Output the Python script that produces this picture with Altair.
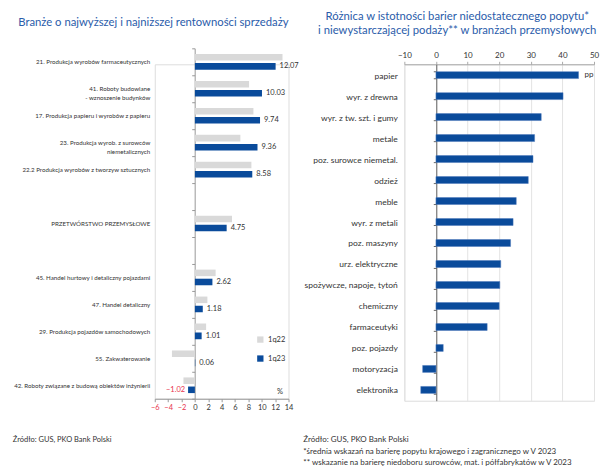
import altair as alt
import pandas as pd

# ---------------- data ----------------
left_cats = [
    "21. Produkcja wyrobów farmaceutycznych",
    "41. Roboty budowlane|- wznoszenie budynków",
    "17. Produkcja papieru i wyrobów z papieru",
    "23. Produkcja wyrob. z surowców|niemetalicznych",
    "22.2 Produkcja wyrobów z tworzyw sztucznych",
    " ",
    "PRZETWÓRSTWO PRZEMYSŁOWE",
    "  ",
    "45. Handel hurtowy i detaliczny pojazdami",
    "47. Handel detaliczny",
    "29. Produkcja pojazdów samochodowych",
    "55. Zakwaterowanie",
    "42. Roboty związane z budową obiektów inżynierii",
]
q22 = [13.1, 8.1, 8.75, 6.8, 8.45, None, 5.55, None, 3.1, 1.87, 1.68, -3.43, -1.71]
q23 = [12.07, 10.03, 9.74, 9.36, 8.58, None, 4.75, None, 2.62, 1.18, 1.01, 0.06, -1.02]
series = ["1q22", "1q23"]
left_ticks = [-6, -4, -2, 0, 2, 4, 6, 8, 10, 12, 14]

right_cats = [
    "papier", "wyr. z drewna", "wyr. z tw. szt. i gumy", "metale",
    "poz. surowce niemetal.", "odzież", "meble", "wyr. z metali",
    "poz. maszyny", "urz. elektryczne", "spożywcze, napoje, tytoń",
    "chemiczny", "farmaceutyki", "poz. pojazdy", "motoryzacja", "elektronika",
]
right_vals = [45.1, 40.2, 33.3, 31.2, 30.7, 29.2, 25.4, 24.4, 23.6, 20.5,
              20.2, 20.0, 16.2, 2.3, -4.2, -4.8]
right_ticks = [-10, 0, 10, 20, 30, 40, 50]

left_title = "Branże o najwyższej i najniższej rentowności sprzedaży"
right_title = ["Różnica w istotności barier niedostatecznego  popytu*",
               "i niewystarczającej podaży** w branżach przemysłowych"]
source = "Źródło: GUS, PKO Bank Polski"
notes = ["*średnia wskazań na barierę popytu krajowego i zagranicznego w V 2023",
         "** wskazanie na barierę niedoboru surowców, mat. i półfabrykatów w V 2023"]

# ---------------- styles ----------------
BLUE = "#0a4b9b"
GRAY = "#d9d9d9"
RED = "#e8344e"
TXT = "#333333"
TITLE_BLUE = "#2a5caa"
FONT = "Lato"

rows = []
for c, a, b in zip(left_cats, q22, q23):
    rows.append({"cat": c, "series": series[0], "v": a})
    rows.append({"cat": c, "series": series[1], "v": b})
ldf = pd.DataFrame(rows)

y_left = alt.Y(
    "cat:N", sort=left_cats,
    scale=alt.Scale(domain=left_cats, paddingInner=0, paddingOuter=0, range=[-16, 335]),
    axis=alt.Axis(title=None, orient="left", offset=-40, tickBand="extent",
                  tickSize=3, labelPadding=42, labelExpr="split(datum.label, '|')",
                  labelFontSize=6.2, labelColor=TXT, labelLimit=250,
                  domainColor="#999999", tickColor="#999999", labelLineHeight=9),
)
yoff = alt.YOffset("series:N", sort=series,
                   scale=alt.Scale(domain=series, paddingInner=0.28, paddingOuter=0.62))
x_left = alt.X(
    "v:Q", scale=alt.Scale(domain=[-6, 14], nice=False),
    axis=alt.Axis(values=left_ticks, tickCount=20, title="%",
                  titleX=125, titleY=-11,
                  titleFontSize=7.5, titleFontWeight="normal", titleColor=TXT,
                  labelFontSize=7.5, labelOverlap=False, labelFlush=False,
                  labelColor=alt.condition("datum.value < 0", alt.value(RED), alt.value(TXT)),
                  grid=False, domainColor="#999999", tickColor="#999999", tickSize=3),
)

bars_l = alt.Chart(ldf).mark_bar().encode(
    y=y_left, yOffset=yoff, x=x_left,
    color=alt.Color("series:N", sort=series,
                    scale=alt.Scale(domain=series, range=[GRAY, BLUE]),
                    legend=alt.Legend(title=None, orient="none", legendX=102, legendY=272,
                                      symbolType="square", symbolSize=40, labelFontSize=7.5,
                                      labelColor=TXT, rowPadding=10, symbolStrokeWidth=0)),
)
base_txt = alt.Chart(ldf).transform_filter(
    "datum.series == '1q23' && isValid(datum.v)")
txt_pos = base_txt.transform_filter("datum.v >= 0").mark_text(
    align="left", dx=4, fontSize=7.5, color=TXT).encode(
    y=y_left, yOffset=yoff, x=x_left, text=alt.Text("v:Q", format=".2f"))
txt_neg = base_txt.transform_filter("datum.v < 0").mark_text(
    align="right", dx=-3, fontSize=7.5, color=RED).encode(
    y=y_left, yOffset=yoff, x=x_left, text=alt.Text("v:Q", format=".2f"))

left = alt.layer(bars_l, txt_pos, txt_neg).properties(
    width=134, height=335,
    title=alt.TitleParams(left_title, fontSize=11.3, color=TITLE_BLUE, font=FONT,
                          fontWeight="normal", anchor="start", frame="bounds", offset=20,
                          dx=5),
)

# right chart
rdf = pd.DataFrame({"cat": right_cats, "v": right_vals})
y_right = alt.Y(
    "cat:N", sort=right_cats,
    scale=alt.Scale(domain=right_cats, paddingInner=0.67, paddingOuter=0.35),
    axis=alt.Axis(title=None, orient="left", offset=-32, tickBand="extent",
                  tickSize=3, labelPadding=36, labelFontSize=8.5, labelColor=TXT,
                  labelLimit=250, domainColor="#666666", tickColor="#666666"),
)
x_right = alt.X(
    "v:Q", scale=alt.Scale(domain=[-10, 50], nice=False),
    axis=alt.Axis(values=right_ticks, tickCount=20, orient="top",
                  title=None, labelFontSize=8, labelColor=TXT,
                  grid=True, gridColor="#e3e3e3",
                  labelOverlap=False, labelFlush=False,
                  domainColor="#aaaaaa", tickColor="#aaaaaa", tickSize=3),
)
bars_r = alt.Chart(rdf).mark_bar(color=BLUE, stroke="#4a78bb", strokeWidth=0.5).encode(
    y=y_right, x=x_right)
pp = alt.Chart(rdf).transform_filter("datum.cat == 'papier'").mark_text(
    align="left", dx=6, fontSize=8, color=TXT).encode(
    y=y_right, x=x_right, text=alt.value("pp"))

right = alt.layer(bars_r, pp).properties(
    width=190, height=337,
    title=alt.TitleParams(right_title, fontSize=11.3, color=TITLE_BLUE, font=FONT,
                          fontWeight="normal", anchor="middle", frame="bounds",
                          lineHeight=14, offset=15, dx=6),
)

left_w = alt.vconcat(left).properties(
    title=alt.TitleParams(source, orient="bottom", anchor="start", fontSize=7.5,
                          fontWeight="normal", color=TXT, font=FONT, offset=21))
right_w = alt.vconcat(right).properties(
    title=alt.TitleParams([source] + notes, orient="bottom", anchor="start", fontSize=8,
                          fontWeight="normal", color=TXT, font=FONT, lineHeight=11.5,
                          offset=35))

chart = alt.hconcat(left_w, right_w, spacing=3).properties(
    padding={"left": 4, "top": 2, "right": 4, "bottom": 2}
).configure_view(stroke=None).configure(font=FONT)

chart.save("out.html", embed_options={"renderer": "svg", "actions": False})
